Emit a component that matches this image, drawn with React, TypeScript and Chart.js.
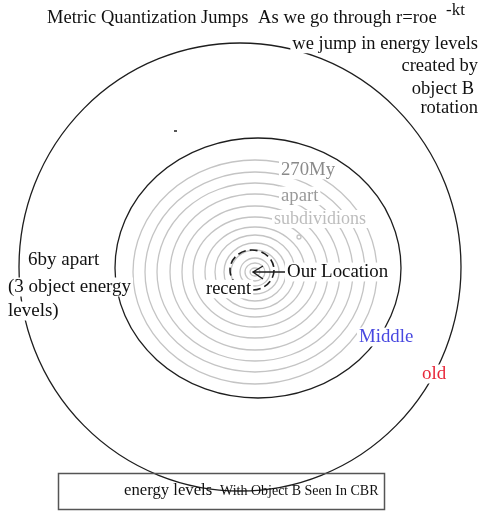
import { useEffect, useRef } from "react";
import { Chart, registerables } from "chart.js";
Chart.register(...registerables);

const W = 484;
const H = 511;

// Energy-level circles (outer "old", "Middle", dashed "recent")
const levelNames = ["old", "Middle", "recent"];
const levelCx = [240, 258, 252];
const levelCy = [267, 268, 270];
const levelRx = [221, 143, 22];
const levelRy = [224, 130, 20];
const levelDash = [[], [], [8, 4]];

// 270My subdivision rings (grey)
const subCx = 255;
const subCy = 272;
const subRx = [122, 110, 98, 85, 73, 62, 50, 40, 31, 24, 15, 10, 5];
const subRy = [112, 100, 89, 78, 66, 55, 45, 37, 29, 22, 14, 9, 4];

// Our location point
const locX = [253];
const locY = [272];

const SERIF = "'Liberation Serif', 'Times New Roman', serif";

type Lbl = {
  t: string;
  x: number;
  y: number;
  size: number;
  color: string;
  align: CanvasTextAlign;
  bg: boolean;
};

const labels: Lbl[] = [
  { t: "Metric Quantization Jumps", x: 47, y: 18, size: 18.5, color: "#111", align: "left", bg: false },
  { t: "As we go through r=roe", x: 258, y: 18, size: 18.7, color: "#111", align: "left", bg: false },
  { t: "-kt", x: 446, y: 11, size: 17, color: "#111", align: "left", bg: false },
  { t: "we jump in energy levels", x: 478, y: 44, size: 18.5, color: "#111", align: "right", bg: true },
  { t: "created by", x: 478, y: 66, size: 18.5, color: "#111", align: "right", bg: true },
  { t: "object B", x: 474, y: 89, size: 18.5, color: "#111", align: "right", bg: true },
  { t: "rotation", x: 478, y: 108, size: 18.5, color: "#111", align: "right", bg: true },
  { t: "270My", x: 281, y: 170, size: 18.7, color: "#8a8a8a", align: "left", bg: true },
  { t: "apart", x: 281, y: 196, size: 18.7, color: "#9a9a9a", align: "left", bg: true },
  { t: "subdividions", x: 274, y: 219, size: 18, color: "#bdbdbd", align: "left", bg: true },
  { t: "Our Location", x: 287, y: 272, size: 18.9, color: "#111", align: "left", bg: true },
  { t: "recent", x: 206, y: 289, size: 18.5, color: "#111", align: "left", bg: true },
  { t: "6by apart", x: 28, y: 260, size: 19, color: "#111", align: "left", bg: true },
  { t: "(3 object energy", x: 8, y: 287, size: 19, color: "#111", align: "left", bg: true },
  { t: "levels)", x: 8, y: 311, size: 19, color: "#111", align: "left", bg: true },
  { t: "Middle", x: 359, y: 337, size: 18.8, color: "#4848e0", align: "left", bg: true },
  { t: "old", x: 422, y: 374, size: 19, color: "#e8283a", align: "left", bg: true },
];

const diagramPlugin = {
  id: "diagram",
  beforeDatasetsDraw(chart: any) {
    const ctx: CanvasRenderingContext2D = chart.ctx;
    const xs = chart.scales.x;
    const ys = chart.scales.y;
    const px = (v: number) => xs.getPixelForValue(v);
    const py = (v: number) => ys.getPixelForValue(v);
    const ell = (cx: number, cy: number, rx: number, ry: number) => {
      const X = px(cx), Y = py(cy);
      const RX = Math.abs(px(cx + rx) - X);
      const RY = Math.abs(py(cy + ry) - Y);
      ctx.beginPath();
      ctx.ellipse(X, Y, RX, RY, 0, 0, Math.PI * 2);
      ctx.stroke();
    };
    ctx.save();
    ctx.fillStyle = "#fff";
    ctx.fillRect(0, 0, chart.width, chart.height);
    // grey subdivision rings
    ctx.strokeStyle = "#c4c4c4";
    ctx.lineWidth = 1.3;
    subRx.forEach((rx, i) => ell(subCx, subCy, rx, subRy[i]));
    // tiny grey ring
    ell(299, 237, 2, 2);
    // energy level circles
    ctx.strokeStyle = "#1e1e1e";
    levelNames.forEach((_, i) => {
      ctx.lineWidth = i === 2 ? 1.6 : 1.3;
      ctx.setLineDash(levelDash[i]);
      ell(levelCx[i], levelCy[i], levelRx[i], levelRy[i]);
    });
    ctx.setLineDash([]);
    // small tick mark
    ctx.lineWidth = 1.5;
    ctx.beginPath();
    ctx.moveTo(px(174), py(131));
    ctx.lineTo(px(177), py(131));
    ctx.stroke();
    // arrow to our location
    ctx.lineWidth = 1.4;
    ctx.beginPath();
    ctx.moveTo(px(286), py(272));
    ctx.lineTo(px(locX[0]), py(locY[0]));
    ctx.moveTo(px(263), py(266));
    ctx.lineTo(px(locX[0]), py(locY[0]));
    ctx.lineTo(px(263), py(279));
    ctx.stroke();
    // labels
    ctx.textBaseline = "middle";
    labels.forEach((l) => {
      ctx.font = `${l.size}px ${SERIF}`;
      ctx.textAlign = l.align;
      const w = ctx.measureText(l.t).width;
      const x0 = l.align === "right" ? l.x - w : l.x;
      if (l.bg) {
        ctx.fillStyle = "#fff";
        ctx.fillRect(x0 - 2, l.y - l.size * 0.5, w + 4, l.size * 1.0);
      }
      ctx.fillStyle = l.color;
      ctx.fillText(l.t, l.x, l.y);
    });
    // bottom box
    ctx.strokeStyle = "#555";
    ctx.lineWidth = 1.5;
    ctx.strokeRect(58.5, 473.5, 326, 36);
    ctx.textAlign = "left";
    ctx.textBaseline = "alphabetic";
    ctx.fillStyle = "#111";
    ctx.font = `16.7px ${SERIF}`;
    ctx.fillText("energy levels", 124, 495);
    ctx.font = `14px ${SERIF}`;
    ctx.fillText("With Object B Seen In CBR", 220, 495);
    ctx.restore();
  },
};

export default function App() {
  const ref = useRef<HTMLCanvasElement | null>(null);
  useEffect(() => {
    if (!ref.current) return;
    const chart = new Chart(ref.current, {
      type: "scatter",
      data: {
        datasets: [
          {
            label: "Our Location",
            data: locX.map((x, i) => ({ x, y: locY[i] })),
            pointRadius: 0,
            showLine: false,
          },
        ],
      },
      options: {
        responsive: false,
        animation: false,
        devicePixelRatio: 1,
        layout: { padding: 0 },
        plugins: { legend: { display: false }, tooltip: { enabled: false } },
        scales: {
          x: { type: "linear", min: 0, max: W, display: false },
          y: { type: "linear", min: 0, max: H, reverse: true, display: false },
        },
      },
      plugins: [diagramPlugin],
    });
    return () => chart.destroy();
  }, []);
  return (
    <div style={{ position: "absolute", left: 0, top: 0, width: W, height: H, background: "#fff" }}>
      <canvas ref={ref} width={W} height={H} style={{ width: W, height: H, display: "block" }} />
    </div>
  );
}
